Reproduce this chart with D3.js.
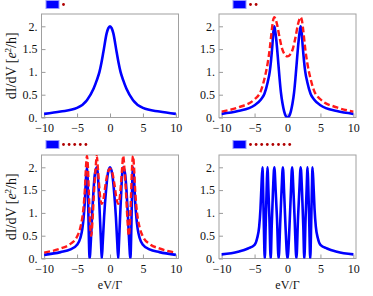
<!DOCTYPE html>
<html>
<head>
<meta charset="utf-8">
<script src="https://cdn.jsdelivr.net/npm/d3@7"></script>
<style>
  body { margin: 0; background: #fff; }
  text { font-family: 'Liberation Serif', 'Times New Roman', serif; fill: #111; }
</style>
</head>
<body>
<div id="graf"></div>
<script>
// I. Datos
xTicks = [-10, -5, 0, 5, 10]
xTickLabels = ['\u221210', '\u22125', '0', '5', '10']
yTicks = [0, 0.5, 1, 1.5, 2]
yTickLabels = ['0.', '0.5', '1.', '1.5', '2.']
legendDots = [1, 2, 5, 8]

p1Blue = [[-10,0.08],[-7.5,0.13],[-5,0.21],[-3.5,0.38],[-2.5,0.63],[-2,0.82],[-1.6,1.0],[-1.3,1.2],
  [-1,1.44],[-0.5,1.85],[-0.25,1.96],[0,2],[0.25,1.96],[0.5,1.85],[1,1.44],[1.3,1.2],[1.6,1.0],
  [2,0.82],[2.5,0.63],[3.5,0.38],[5,0.21],[7.5,0.13],[10,0.08]]

p2Blue = [[-10,0.08],[-7.5,0.14],[-5,0.27],[-4,0.4],[-3.5,0.52],[-3,0.78],[-2.7,1.0],[-2.5,1.25],
  [-2.3,1.58],[-2.15,1.87],[-2,2.0],[-1.85,1.88],[-1.6,1.55],[-1.4,1.2],[-1.2,0.85],[-1,0.55],
  [-0.75,0.3],[-0.5,0.13],[-0.25,0.03],[0,0],[0.25,0.03],[0.5,0.13],[0.75,0.3],[1,0.55],[1.2,0.85],
  [1.4,1.2],[1.6,1.55],[1.85,1.88],[2,2.0],[2.15,1.87],[2.3,1.58],[2.5,1.25],[2.7,1.0],[3,0.78],
  [3.5,0.52],[4,0.4],[5,0.27],[7.5,0.14],[10,0.08]]

p2Red = [[-10,0.13],[-7.5,0.22],[-5,0.4],[-4,0.6],[-3.5,0.85],[-3,1.2],[-2.7,1.5],[-2.4,1.9],
  [-2.2,2.12],[-2,2.2],[-1.8,2.15],[-1.6,2.05],[-1.2,1.75],[-0.8,1.5],[-0.4,1.38],[0,1.34],
  [0.4,1.38],[0.8,1.5],[1.2,1.75],[1.6,2.05],[1.8,2.15],[2,2.2],[2.2,2.12],[2.4,1.9],[2.7,1.5],
  [3,1.2],[3.5,0.85],[4,0.6],[5,0.4],[7.5,0.22],[10,0.13]]

p3Blue = [[-10,0.08],[-7.5,0.14],[-6,0.2],[-5,0.3],[-4.5,0.45],[-4.2,0.65],[-4,0.9],[-3.8,1.3],
  [-3.65,1.75],[-3.5,2.0],[-3.4,1.8],[-3.3,1.1],[-3.2,0.4],[-3.1,0],[-2.9,0.4],[-2.7,1.0],
  [-2.5,1.5],[-2.3,1.85],[-2,2.0],[-1.85,1.85],[-1.7,1.45],[-1.5,0.8],[-1.35,0.3],[-1.25,0],
  [-1.1,0.35],[-0.9,0.9],[-0.6,1.5],[-0.3,1.88],[0,2.0],[0.3,1.88],[0.6,1.5],[0.9,0.9],[1.1,0.35],
  [1.25,0],[1.35,0.3],[1.5,0.8],[1.7,1.45],[1.85,1.85],[2,2.0],[2.3,1.85],[2.5,1.5],[2.7,1.0],
  [2.9,0.4],[3.1,0],[3.2,0.4],[3.3,1.1],[3.4,1.8],[3.5,2.0],[3.65,1.75],[3.8,1.3],[4,0.9],
  [4.2,0.65],[4.5,0.45],[5,0.3],[6,0.2],[7.5,0.14],[10,0.08]]

p3Red = [[-10,0.13],[-7.5,0.22],[-6,0.32],[-5,0.48],[-4.5,0.68],[-4.2,0.9],[-4,1.15],[-3.8,1.55],
  [-3.65,2.0],[-3.5,2.25],[-3.35,2.0],[-3.2,1.4],[-3.05,0.85],[-2.85,0.5],[-2.65,0.85],[-2.45,1.4],
  [-2.2,1.95],[-2,2.25],[-1.85,2.0],[-1.65,1.6],[-1.45,1.3],[-1.25,1.2],[-1.0,1.3],[-0.7,1.6],
  [-0.4,1.85],[0,1.97],[0.4,1.85],[0.7,1.6],[1.0,1.3],[1.25,1.2],[1.45,1.3],[1.65,1.6],[1.85,2.0],
  [2,2.25],[2.2,1.95],[2.45,1.4],[2.65,0.85],[2.85,0.5],[3.05,0.85],[3.2,1.4],[3.35,2.0],
  [3.5,2.25],[3.65,2.0],[3.8,1.55],[4,1.15],[4.2,0.9],[4.5,0.68],[5,0.48],[6,0.32],[7.5,0.22],[10,0.13]]

p4Blue = [[-10,0.09],[-7.5,0.15],[-6,0.22],[-5,0.3],[-4.6,0.45],[-4.3,0.7],[-4.1,1.1],[-3.95,1.6],
  [-3.8,2.0],[-3.7,1.5],[-3.6,0.8],[-3.45,0],[-3.3,0.8],[-3.15,1.6],[-3.05,2.0],[-2.9,1.5],
  [-2.75,0.9],[-2.55,0],[-2.4,0.7],[-2.2,1.5],[-2.0,2.0],[-1.8,1.5],[-1.6,0.9],[-1.35,0],
  [-1.1,0.8],[-0.9,1.5],[-0.7,2.0],[-0.5,1.4],[-0.3,0.7],[0,0],[0.3,0.7],[0.5,1.4],[0.7,2.0],
  [0.9,1.5],[1.1,0.8],[1.35,0],[1.6,0.9],[1.8,1.5],[2.0,2.0],[2.2,1.5],[2.4,0.7],[2.55,0],
  [2.75,0.9],[2.9,1.5],[3.05,2.0],[3.15,1.6],[3.3,0.8],[3.45,0],[3.6,0.8],[3.7,1.5],[3.8,2.0],
  [3.95,1.6],[4.1,1.1],[4.3,0.7],[4.6,0.45],[5,0.3],[6,0.22],[7.5,0.15],[10,0.09]]

// II. Configuración
ancho_total = 373
alto_total = 296
anchoPanel = 137
altoPanel = 103.5

paneles = [
  { left: 41.5, top: 14,  legX: 46,  legY: 0,   blue: p1Blue, red: null,   dots: legendDots[0], yLab: true,  xLab: false },
  { left: 219,  top: 14,  legX: 233, legY: 0,   blue: p2Blue, red: p2Red,  dots: legendDots[1], yLab: false, xLab: false },
  { left: 41.5, top: 155, legX: 46,  legY: 140, blue: p3Blue, red: p3Red,  dots: legendDots[2], yLab: true,  xLab: true },
  { left: 219,  top: 155, legX: 233, legY: 140, blue: p4Blue, red: null,   dots: legendDots[3], yLab: false, xLab: true }
]

svg = d3.select('#graf').append('svg')
  .attr('width', ancho_total)
  .attr('height', alto_total)

// III. Dibujo
paneles.forEach((p, i) => {
  x = d3.scaleLinear().domain([-10.4, 10.4]).range([p.left, p.left + anchoPanel])
  y = d3.scaleLinear().domain([0, 2.27]).range([p.top + altoPanel, p.top])

  clipId = 'clip' + i
  svg.append('clipPath').attr('id', clipId)
    .append('rect')
      .attr('x', p.left).attr('y', p.top)
      .attr('width', anchoPanel).attr('height', altoPanel)

  // ejes
  xAxis = svg.append('g')
    .attr('transform', `translate(0, ${p.top + altoPanel})`)
    .call(d3.axisBottom(x).tickValues(xTicks).tickSize(-4).tickPadding(6)
      .tickFormat((d, j) => xTickLabels[j]))
  yAxis = svg.append('g')
    .attr('transform', `translate(${p.left}, 0)`)
    .call(d3.axisLeft(y).tickValues(yTicks).tickSize(-4).tickPadding(4)
      .tickFormat((d, j) => yTickLabels[j]))

  ;[xAxis, yAxis].forEach(a => {
    a.select('.domain').remove()
    a.selectAll('line').attr('stroke', '#9a9a9a')
    a.selectAll('text').style('font-size', '12px').attr('fill', '#111')
      .style('font-family', "'Liberation Serif', serif")
  })

  // marco
  svg.append('rect')
    .attr('x', p.left).attr('y', p.top)
    .attr('width', anchoPanel).attr('height', altoPanel)
    .attr('fill', 'none').attr('stroke', '#a0a0a0').attr('stroke-width', 1)

  linea = d3.line()
    .x(d => x(d[0]))
    .y(d => y(d[1]))
    .curve(d3.curveMonotoneX)

  curvas = svg.append('g').attr('clip-path', `url(#${clipId})`)
  curvas.append('path')
    .datum(p.blue)
    .attr('d', linea)
    .attr('fill', 'none')
    .attr('stroke', '#0000ff')
    .attr('stroke-width', 2.6)
    .attr('stroke-linejoin', 'round')
  if (p.red) {
    curvas.append('path')
      .datum(p.red)
      .attr('d', linea)
      .attr('fill', 'none')
      .attr('stroke', '#ff1a1a')
      .attr('stroke-width', 2.4)
      .attr('stroke-dasharray', '6,3')
  }

  // leyenda
  svg.append('rect')
    .attr('x', p.legX).attr('y', p.legY + 0.5)
    .attr('width', 13).attr('height', 8)
    .attr('fill', '#0000ff').attr('stroke', '#9999ff').attr('stroke-width', 1)
  svg.selectAll(null)
    .data(d3.range(p.dots))
    .enter().append('circle')
      .attr('cx', d => p.legX + 17.5 + d * 5.6)
      .attr('cy', p.legY + 4.5)
      .attr('r', 1.4)
      .attr('fill', '#b00000')

  if (p.yLab) {
    t = svg.append('text')
      .attr('transform', `translate(16, ${p.top + altoPanel / 2}) rotate(-90)`)
      .attr('text-anchor', 'middle')
      .style('font-size', '14px')
    t.append('tspan').text('dI/dV [')
    t.append('tspan').style('font-style', 'italic').text('e')
    t.append('tspan').attr('dy', -5).style('font-size', '9px').text('2')
    t.append('tspan').attr('dy', 5).text('/h]')
  }
  if (p.xLab) {
    svg.append('text')
      .attr('x', x(0)).attr('y', 289)
      .attr('text-anchor', 'middle')
      .style('font-size', '12px')
      .text('eV/\u0393')
  }
})
</script>
</body>
</html>
